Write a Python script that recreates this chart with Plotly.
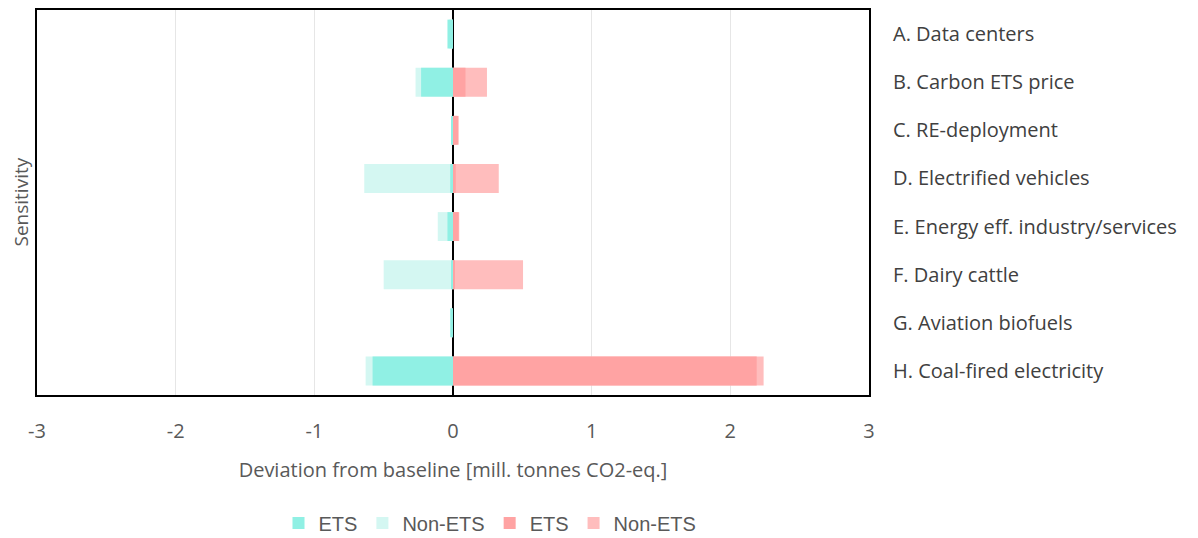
import plotly.graph_objects as go

categories = ["A. Data centers", "B. Carbon ETS price", "C. RE-deployment",
              "D. Electrified vehicles", "E. Energy eff. industry/services",
              "F. Dairy cattle", "G. Aviation biofuels", "H. Coal-fired electricity"]

neg_ets = [-0.04, -0.23, -0.01, -0.02, -0.04, -0.01, -0.02, -0.58]
neg_non_ets = [-0.03, -0.27, -0.005, -0.64, -0.11, -0.5, -0.01, -0.63]
pos_ets = [0.0, 0.09, 0.04, 0.02, 0.04, 0.01, 0.0, 2.19]
pos_non_ets = [0.0, 0.245, 0.03, 0.33, 0.045, 0.505, 0.0, 2.24]

x_ticks = [-3, -2, -1, 0, 1, 2, 3]
x_tick_labels = ["-3", "-2", "-1", "0", "1", "2", "3"]

FONT = "Open Sans"
GREY = "#595959"

# page offset of the plot div (default body margin)
OFF = 8
L, T, PW, PH = 37 - OFF, 10 - OFF, 832, 385

fig = go.Figure()
fig.add_trace(go.Bar(y=categories, x=neg_non_ets, orientation="h", name="Non-ETS",
                     marker=dict(color="#D4F7F2", line=dict(width=0)), width=0.6, legendrank=2))
fig.add_trace(go.Bar(y=categories, x=neg_ets, orientation="h", name="ETS",
                     marker=dict(color="#90F0E4", line=dict(width=0)), width=0.6, legendrank=1))
fig.add_trace(go.Bar(y=categories, x=pos_non_ets, orientation="h", name="Non-ETS",
                     marker=dict(color="#FFBDBD", line=dict(width=0)), width=0.6, legendrank=4))
fig.add_trace(go.Bar(y=categories, x=pos_ets, orientation="h", name="ETS",
                     marker=dict(color="#FFA3A3", line=dict(width=0)), width=0.6, legendrank=3))

fig.update_layout(
    barmode="overlay",
    width=1198, height=538,
    margin=dict(l=L, r=1198 - L - PW, t=T, b=538 - T - PH, autoexpand=False),
    plot_bgcolor="white", paper_bgcolor="white",
    font=dict(family=FONT, size=20, color=GREY),
    legend=dict(orientation="h", x=(490 - 37) / PW, xanchor="center",
                y=(395 - 523) / PH, yanchor="middle",
                font=dict(family="Liberation Sans", size=20, color=GREY),
                traceorder="normal", itemwidth=30),
    xaxis=dict(range=[-3, 3], tickvals=x_ticks, ticktext=x_tick_labels,
               showgrid=True, gridcolor="#E6E6E6", gridwidth=1,
               zeroline=True, zerolinecolor="black", zerolinewidth=2,
               showline=True, linecolor="black", linewidth=2, mirror=True, automargin=False,
               ticks="", ticklabelstandoff=17, tickfont=dict(size=20, color=GREY),
               title=dict(text="Deviation from baseline [mill. tonnes CO2-eq.]",
                          font=dict(size=20, color=GREY), standoff=20)),
    yaxis=dict(autorange="reversed", side="right", showline=True, linecolor="black", linewidth=2,
               mirror=True, ticks="", ticklabelstandoff=18, showgrid=False, automargin=False,
               tickfont=dict(size=20, color="#404040")),
    annotations=[dict(text="Sensitivity", textangle=-90, x=-17 / PW, y=0.5,
                      xref="paper", yref="paper", xanchor="center", yanchor="middle",
                      showarrow=False, font=dict(size=19, color=GREY))],
)

fig.write_html("out.html")
